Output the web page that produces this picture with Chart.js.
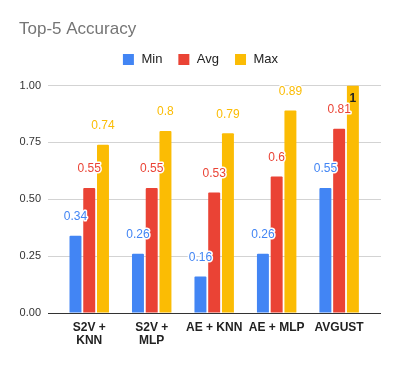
<!DOCTYPE html>
<html>
<head>
<meta charset="utf-8">
<script src="https://cdn.jsdelivr.net/npm/chart.js@4.4.1/dist/chart.umd.min.js"></script>
<style>
  body { margin: 0; background: #fff; }
  canvas { display: block; }
</style>
</head>
<body>
<canvas id="chart" width="399" height="365"></canvas>
<script>
const categories = [["S2V +", "KNN"], ["S2V +", "MLP"], "AE + KNN", "AE + MLP", "AVGUST"];
const minValues = [0.34, 0.26, 0.16, 0.26, 0.55];
const avgValues = [0.55, 0.55, 0.53, 0.6, 0.81];
const maxValues = [0.74, 0.8, 0.79, 0.89, 1];
const yTicks = [0, 0.25, 0.5, 0.75, 1];

const BLUE = "#4285F4";
const RED = "#EA4335";
const YELLOW = "#FBBC04";

Chart.defaults.font.family = "'Liberation Sans', Arial, sans-serif";

const toPoints = (vals) => vals.map((v, i) => ({ x: i, y: v }));

// legend gets some extra room underneath
const legendSpacer = {
  id: "legendSpacer",
  beforeInit(chart) {
    const origFit = chart.legend.fit;
    chart.legend.fit = function fit() {
      origFit.bind(chart.legend)();
      this.height += 9.5;
    };
  },
};

// value labels above the bars, white halo like the sheets chart
const valueLabels = {
  id: "valueLabels",
  afterDatasetsDraw(chart) {
    const ctx = chart.ctx;
    ctx.save();
    ctx.textAlign = "center";
    ctx.textBaseline = "middle";
    ctx.lineJoin = "round";
    chart.data.datasets.forEach((ds, di) => {
      chart.getDatasetMeta(di).data.forEach((bar, i) => {
        const v = ds.data[i].y;
        const text = String(v);
        if (v >= 1) {
          ctx.font = "bold 12px 'Liberation Sans', Arial, sans-serif";
          ctx.fillStyle = "#222";
          ctx.fillText(text, bar.x, bar.y + 13);
          return;
        }
        ctx.font = "12px 'Liberation Sans', Arial, sans-serif";
        ctx.strokeStyle = "#fff";
        ctx.lineWidth = 3;
        ctx.strokeText(text, bar.x, bar.y - 19);
        ctx.fillStyle = ds.backgroundColor;
        ctx.fillText(text, bar.x, bar.y - 19);
      });
    });
    ctx.restore();
  },
};

new Chart(document.getElementById("chart"), {
  type: "bar",
  data: {
    datasets: [
      { label: "Min", data: toPoints(minValues), backgroundColor: BLUE },
      { label: "Avg", data: toPoints(avgValues), backgroundColor: RED },
      { label: "Max", data: toPoints(maxValues), backgroundColor: YELLOW },
    ],
  },
  options: {
    responsive: false,
    animation: false,
    categoryPercentage: 0.66,
    barPercentage: 0.87,
    borderRadius: 1,
    layout: { padding: { left: 19, right: 18, top: 11, bottom: 12 } },
    plugins: {
      title: {
        display: true,
        text: "Top-5 Accuracy",
        align: "start",
        color: "#757575",
        font: { size: 17, weight: "normal", lineHeight: 1 },
        padding: { top: 10, bottom: 0 },
      },
      legend: {
        display: true,
        position: "top",
        labels: {
          usePointStyle: true,
          pointStyle: "rect",
          boxWidth: 13,
          boxHeight: 11,
          padding: 15,
          color: "#222",
          font: { size: 13 },
        },
      },
      tooltip: { enabled: false },
    },
    scales: {
      x: {
        type: "linear",
        min: -0.66,
        max: 4.67,
        offset: false,
        grid: { display: false, offset: false, drawTicks: false },
        border: { display: false },
        afterBuildTicks: (axis) => {
          axis.ticks = categories.map((c, i) => ({ value: i }));
        },
        afterFit: (axis) => {
          axis.height = 40;
        },
        ticks: {
          autoSkip: false,
          maxRotation: 0,
          padding: 8,
          color: "#222",
          font: { size: 12, weight: "bold", lineHeight: 1.1 },
          callback: (v) => categories[v],
        },
      },
      y: {
        min: 0,
        max: 1,
        border: { display: false },
        afterBuildTicks: (axis) => {
          axis.ticks = yTicks.map((v) => ({ value: v }));
        },
        afterFit: (axis) => {
          axis.width = 29;
        },
        grid: {
          drawTicks: false,
          color: (c) => (c.tick && c.tick.value === 0 ? "#333" : "#d3d3d3"),
        },
        ticks: {
          padding: 7,
          color: "#333",
          font: { size: 11 },
          callback: (v) => v.toFixed(2),
        },
      },
    },
  },
  plugins: [legendSpacer, valueLabels],
});
</script>
</body>
</html>
